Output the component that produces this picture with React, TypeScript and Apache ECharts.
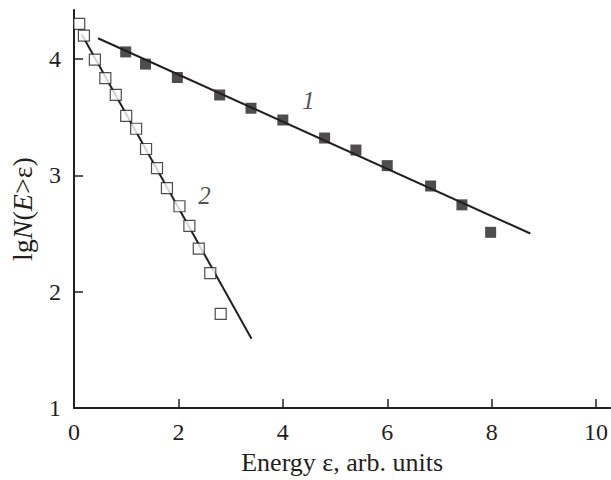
import React, { useEffect, useRef } from "react";
import * as echarts from "echarts";

const FONT = "'Liberation Serif', 'Times New Roman', serif";
const INK = "#231f20";

// Curve 1 (filled squares)
const series1X = [0.99, 1.37, 1.98, 2.79, 3.39, 4.0, 4.8, 5.4, 6.0, 6.83, 7.43, 7.98];
const series1Y = [4.06, 3.955, 3.84, 3.69, 3.576, 3.475, 3.32, 3.217, 3.083, 2.908, 2.746, 2.51];
// Curve 2 (open squares)
const series2X = [0.1, 0.19, 0.4, 0.6, 0.8, 1.0, 1.19, 1.38, 1.59, 1.78, 2.02, 2.21, 2.39, 2.61, 2.81];
const series2Y = [4.3, 4.2, 3.994, 3.834, 3.69, 3.51, 3.4, 3.226, 3.062, 2.889, 2.734, 2.566, 2.37, 2.16, 1.81];
// Fitted lines
const fit1X = [0.46, 8.74];
const fit1Y = [4.177, 2.5];
const fit2X = [0.15, 3.4];
const fit2Y = [4.21, 1.595];
// Curve labels
const curveLabels = ["1", "2"];
const curveLabelX = [4.49, 2.5];
const curveLabelY = [3.64, 2.83];
// Ticks
const xTicks = [0, 2, 4, 6, 8, 10];
const yTicks = [1, 2, 3, 4];

const zip = (xs: number[], ys: number[]) => xs.map((x, i) => [x, ys[i]]);

export default function App() {
  const ref = useRef<HTMLDivElement>(null);
  useEffect(() => {
    document.body.style.margin = "0";
    if (!ref.current) return;
    const chart = echarts.init(ref.current, undefined, { renderer: "svg" });
    chart.setOption({
      animation: false,
      backgroundColor: "#ffffff",
      grid: { left: 70, right: 0, top: 10, bottom: 63, containLabel: false },
      xAxis: {
        type: "value",
        min: 0,
        max: 10.27,
        interval: 2,
        splitLine: { show: false },
        axisLine: { show: true, lineStyle: { color: INK, width: 2 } },
        axisTick: { show: true, inside: true, length: 9, customValues: xTicks, lineStyle: { color: INK, width: 1.5 } },
        axisLabel: { customValues: xTicks, margin: 12, color: INK, fontFamily: FONT, fontSize: 24 },
        name: "Energy ε, arb. units",
        nameLocation: "middle",
        nameGap: 33,
        nameTextStyle: { color: INK, fontFamily: FONT, fontSize: 26, verticalAlign: "top" },
      },
      yAxis: {
        type: "value",
        min: 1,
        max: 4.42,
        interval: 1,
        splitLine: { show: false },
        axisLine: { show: true, lineStyle: { color: INK, width: 2 } },
        axisTick: { show: true, inside: true, length: 9, customValues: yTicks, lineStyle: { color: INK, width: 1.5 } },
        axisLabel: { customValues: yTicks, margin: 13, color: INK, fontFamily: FONT, fontSize: 24 },
        name: "{r|lg}{i|N}{r|(}{i|E}{r|>ε)}",
        nameLocation: "middle",
        nameRotate: 90,
        nameGap: 38,
        nameTextStyle: {
          color: INK,
          fontFamily: FONT,
          fontSize: 28,
          rich: {
            r: { fontFamily: FONT, fontSize: 28, color: INK },
            i: { fontFamily: FONT, fontSize: 28, color: INK, fontStyle: "italic" },
          },
        },
      },
      series: [
        {
          type: "line",
          data: zip(fit1X, fit1Y),
          symbol: "none",
          lineStyle: { color: INK, width: 2 },
          z: 2,
        },
        {
          type: "line",
          data: zip(fit2X, fit2Y),
          symbol: "none",
          lineStyle: { color: INK, width: 2 },
          z: 2,
        },
        {
          type: "scatter",
          data: zip(series1X, series1Y),
          symbol: "rect",
          symbolSize: 11,
          itemStyle: { color: INK },
          z: 3,
        },
        {
          type: "scatter",
          data: zip(series2X, series2Y),
          symbol: "rect",
          symbolSize: 11,
          itemStyle: { color: "#ffffff", borderColor: INK, borderWidth: 1.2 },
          z: 3,
        },
        {
          type: "scatter",
          data: curveLabels.map((t, i) => ({ value: [curveLabelX[i], curveLabelY[i]], name: t })),
          symbolSize: 0,
          label: {
            show: true,
            position: "inside",
            formatter: (p: any) => p.name,
            fontFamily: FONT,
            fontStyle: "italic",
            fontSize: 25,
            color: INK,
          },
          z: 4,
        },
      ],
    });
    return () => chart.dispose();
  }, []);
  return <div ref={ref} style={{ width: 611, height: 480 }} />;
}
